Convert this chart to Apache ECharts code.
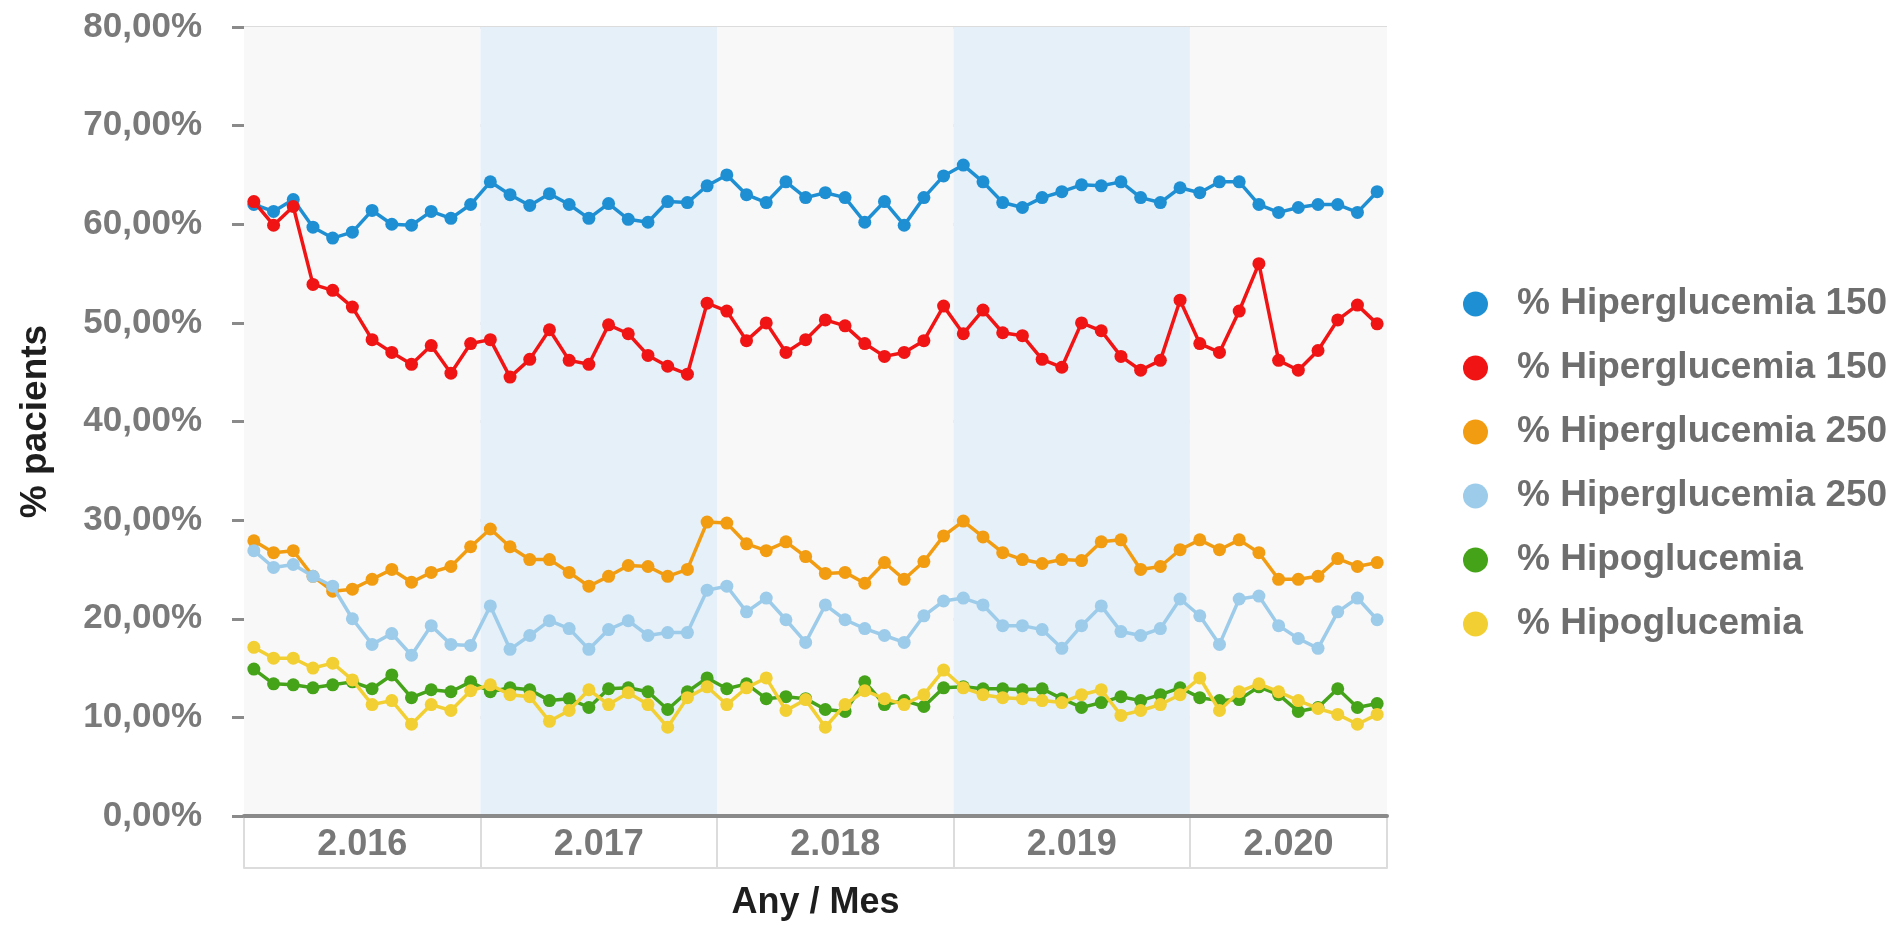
<!DOCTYPE html>
<html>
<head>
<meta charset="utf-8">
<script src="https://cdn.jsdelivr.net/npm/echarts@6/dist/echarts.min.js"></script>
<style>
html,body{margin:0;padding:0;background:#ffffff;}
#chart{width:1903px;height:926px;}
</style>
</head>
<body>
<div id="chart"></div>
<script>
// ---- data ----
const months = [
  '2016-01','2016-02','2016-03','2016-04','2016-05','2016-06','2016-07','2016-08','2016-09','2016-10','2016-11','2016-12',
  '2017-01','2017-02','2017-03','2017-04','2017-05','2017-06','2017-07','2017-08','2017-09','2017-10','2017-11','2017-12',
  '2018-01','2018-02','2018-03','2018-04','2018-05','2018-06','2018-07','2018-08','2018-09','2018-10','2018-11','2018-12',
  '2019-01','2019-02','2019-03','2019-04','2019-05','2019-06','2019-07','2019-08','2019-09','2019-10','2019-11','2019-12',
  '2020-01','2020-02','2020-03','2020-04','2020-05','2020-06','2020-07','2020-08','2020-09','2020-10'
];
const yearKeys = ['2016','2017','2018','2019','2020'];
const yearLabels = ['2.016','2.017','2.018','2.019','2.020'];
const yTicks = [0,10,20,30,40,50,60,70,80];

const seriesNames = [
  '% Hiperglucemia 150', '% Hiperglucemia 150', '% Hiperglucemia 250',
  '% Hiperglucemia 250', '% Hipoglucemia', '% Hipoglucemia'
];
const seriesColors = ['#1f8fd3','#f01414','#f29c12','#9dcbea','#45a31a','#f2cf32'];

const hiper150a = [
  62.0,61.3,62.5,59.7,58.6,59.2,61.4,60.0,59.9,61.3,60.6,62.0,
  64.3,63.0,61.9,63.1,62.0,60.6,62.1,60.5,60.2,62.3,62.2,63.9,
  65.0,63.0,62.2,64.3,62.7,63.2,62.7,60.2,62.3,59.9,62.7,64.9,
  66.0,64.3,62.2,61.7,62.7,63.3,64.0,63.9,64.3,62.7,62.2,63.7,
  63.2,64.3,64.3,62.0,61.2,61.7,62.0,62.0,61.2,63.3
];
const hiper150b = [
  62.3,59.9,61.8,53.9,53.3,51.6,48.3,47.0,45.8,47.7,44.9,47.9,
  48.3,44.5,46.3,49.3,46.2,45.8,49.8,48.9,46.7,45.6,44.8,52.0,
  51.2,48.2,50.0,47.0,48.3,50.3,49.7,47.9,46.6,47.0,48.2,51.7,
  48.9,51.3,49.0,48.7,46.3,45.5,50.0,49.2,46.6,45.2,46.2,52.3,
  47.9,47.0,51.2,56.0,46.2,45.2,47.2,50.3,51.8,49.9
];
const hiper250a = [
  27.9,26.7,26.9,24.3,22.8,23.0,24.0,25.0,23.7,24.7,25.3,27.3,
  29.1,27.3,26.0,26.0,24.7,23.3,24.3,25.4,25.3,24.3,25.0,29.8,
  29.7,27.6,26.9,27.8,26.3,24.6,24.7,23.6,25.7,24.0,25.8,28.4,
  29.9,28.3,26.7,26.0,25.6,26.0,25.9,27.8,28.0,25.0,25.3,27.0,
  28.0,27.0,28.0,26.7,24.0,24.0,24.3,26.1,25.3,25.7
];
const hiper250b = [
  26.9,25.2,25.5,24.3,23.3,20.0,17.4,18.5,16.3,19.3,17.4,17.3,
  21.3,16.9,18.3,19.8,19.0,16.9,18.9,19.8,18.3,18.6,18.6,22.9,
  23.3,20.7,22.1,19.9,17.6,21.4,19.9,19.0,18.3,17.6,20.3,21.8,
  22.1,21.4,19.3,19.3,18.9,17.0,19.3,21.3,18.7,18.3,19.0,22.0,
  20.3,17.4,22.0,22.3,19.3,18.0,17.0,20.7,22.1,19.9
];
const hipoA = [
  14.9,13.4,13.3,13.0,13.3,13.6,12.9,14.3,12.0,12.8,12.6,13.6,
  12.6,13.0,12.8,11.7,11.9,11.0,12.9,13.0,12.6,10.8,12.6,14.0,
  12.9,13.4,11.9,12.1,11.9,10.8,10.6,13.6,11.3,11.7,11.1,13.0,
  13.1,12.9,12.9,12.8,12.9,11.9,11.0,11.5,12.1,11.7,12.3,13.0,
  12.0,11.7,11.8,13.1,12.3,10.6,11.0,12.9,11.0,11.4
];
const hipoB = [
  17.1,16.0,16.0,15.0,15.5,13.8,11.3,11.7,9.3,11.3,10.7,12.7,
  13.3,12.3,12.1,9.6,10.7,12.8,11.3,12.5,11.3,9.0,12.0,13.1,
  11.3,13.0,14.0,10.7,11.8,9.0,11.3,12.7,11.9,11.3,12.3,14.8,
  13.0,12.3,12.0,11.9,11.7,11.5,12.3,12.8,10.2,10.7,11.3,12.3,
  14.0,10.7,12.6,13.4,12.6,11.7,10.9,10.3,9.3,10.3
];
const seriesData = [hiper150a, hiper150b, hiper250a, hiper250b, hipoA, hipoB];

// ---- derived axis helpers ----
const yearStarts = yearKeys.map(y => months.findIndex(m => m.startsWith(y)));
const yearEnds = yearKeys.map(y => {
  let last = -1; months.forEach((m, i) => { if (m.startsWith(y)) last = i; }); return last + 1;
});
const yearBounds = yearStarts.concat([months.length]);
const yearCenters = yearStarts.map((s, i) => (s + yearEnds[i]) / 2);

const FONT = "'Liberation Sans', Arial, Helvetica, sans-serif";

const chart = echarts.init(document.getElementById('chart'), null, {renderer: 'canvas'});
chart.setOption({
  animation: false,
  backgroundColor: '#ffffff',
  grid: {left: 244, right: 516, top: 27, bottom: 96, containLabel: false},
  legend: {
    orient: 'vertical',
    left: 1458,
    top: 279,
    itemWidth: 25,
    itemHeight: 25,
    itemGap: 24,
    icon: 'circle',
    data: seriesNames.map((n, i) => ({name: n + (i % 2 ? '\u200b' : ''), icon: 'circle'})),
    textStyle: {
      fontFamily: FONT, fontWeight: 'bold', fontSize: 37, color: '#6e6e6e',
      lineHeight: 40, padding: [0, 0, 0, 24]
    }
  },
  xAxis: [
    {
      type: 'category',
      data: months,
      boundaryGap: true,
      name: 'Any / Mes',
      nameLocation: 'middle',
      nameGap: 69,
      nameTextStyle: {fontFamily: FONT, fontWeight: 'bold', fontSize: 36, color: '#1e1e1e'},
      axisLine: {show: true, lineStyle: {color: '#8a8a8a', width: 4}},
      axisTick: {show: false},
      axisLabel: {show: false},
      splitLine: {show: false},
      splitArea: {
        show: true,
        interval: function (index) { return yearStarts.indexOf(index) >= 0; },
        areaStyle: {color: ['#f8f8f8', '#e5f0f9']}
      },
      z: 3
    },
    {
      type: 'value',
      min: 0,
      max: months.length,
      position: 'bottom',
      offset: 52,
      axisLine: {show: true, lineStyle: {color: '#dcdcdc', width: 2}},
      axisTick: {
        show: true, inside: true, length: 52, customValues: yearBounds,
        lineStyle: {color: '#dcdcdc', width: 2}
      },
      axisLabel: {
        show: true, inside: true, margin: 5, customValues: yearCenters,
        formatter: function (v) {
          const k = yearCenters.findIndex(c => Math.abs(c - v) < 1e-6);
          return k >= 0 ? yearLabels[k] : '';
        },
        fontFamily: FONT, fontWeight: 'bold', fontSize: 36, color: '#787878'
      },
      splitLine: {show: false}
    }
  ],
  yAxis: {
    type: 'value',
    min: yTicks[0],
    max: yTicks[yTicks.length - 1],
    interval: yTicks[1] - yTicks[0],
    offset: 10,
    name: '% pacients',
    nameLocation: 'middle',
    nameRotate: 90,
    nameGap: 180,
    nameTextStyle: {fontFamily: FONT, fontWeight: 'bold', fontSize: 37, color: '#1e1e1e'},
    axisLine: {show: false},
    axisTick: {show: true, length: 12, lineStyle: {color: '#8a8a8a', width: 3}},
    axisLabel: {
      margin: 32,
      formatter: v => v.toFixed(2).replace('.', ',') + '%',
      fontFamily: FONT, fontWeight: 'bold', fontSize: 35, color: '#7a7a7a'
    },
    splitLine: {show: true, lineStyle: {color: '#dcdcdc', width: 3}}
  },
  series: seriesData.map((d, i) => ({
    name: seriesNames[i] + (i % 2 ? '\u200b' : ''),
    type: 'line',
    data: d,
    xAxisIndex: 0,
    yAxisIndex: 0,
    symbol: 'circle',
    symbolSize: 13,
    showSymbol: true,
    lineStyle: {width: 3.5, color: seriesColors[i]},
    itemStyle: {color: seriesColors[i]},
    emphasis: {disabled: true},
    z: 4 + i
  }))
});
</script>
</body>
</html>
